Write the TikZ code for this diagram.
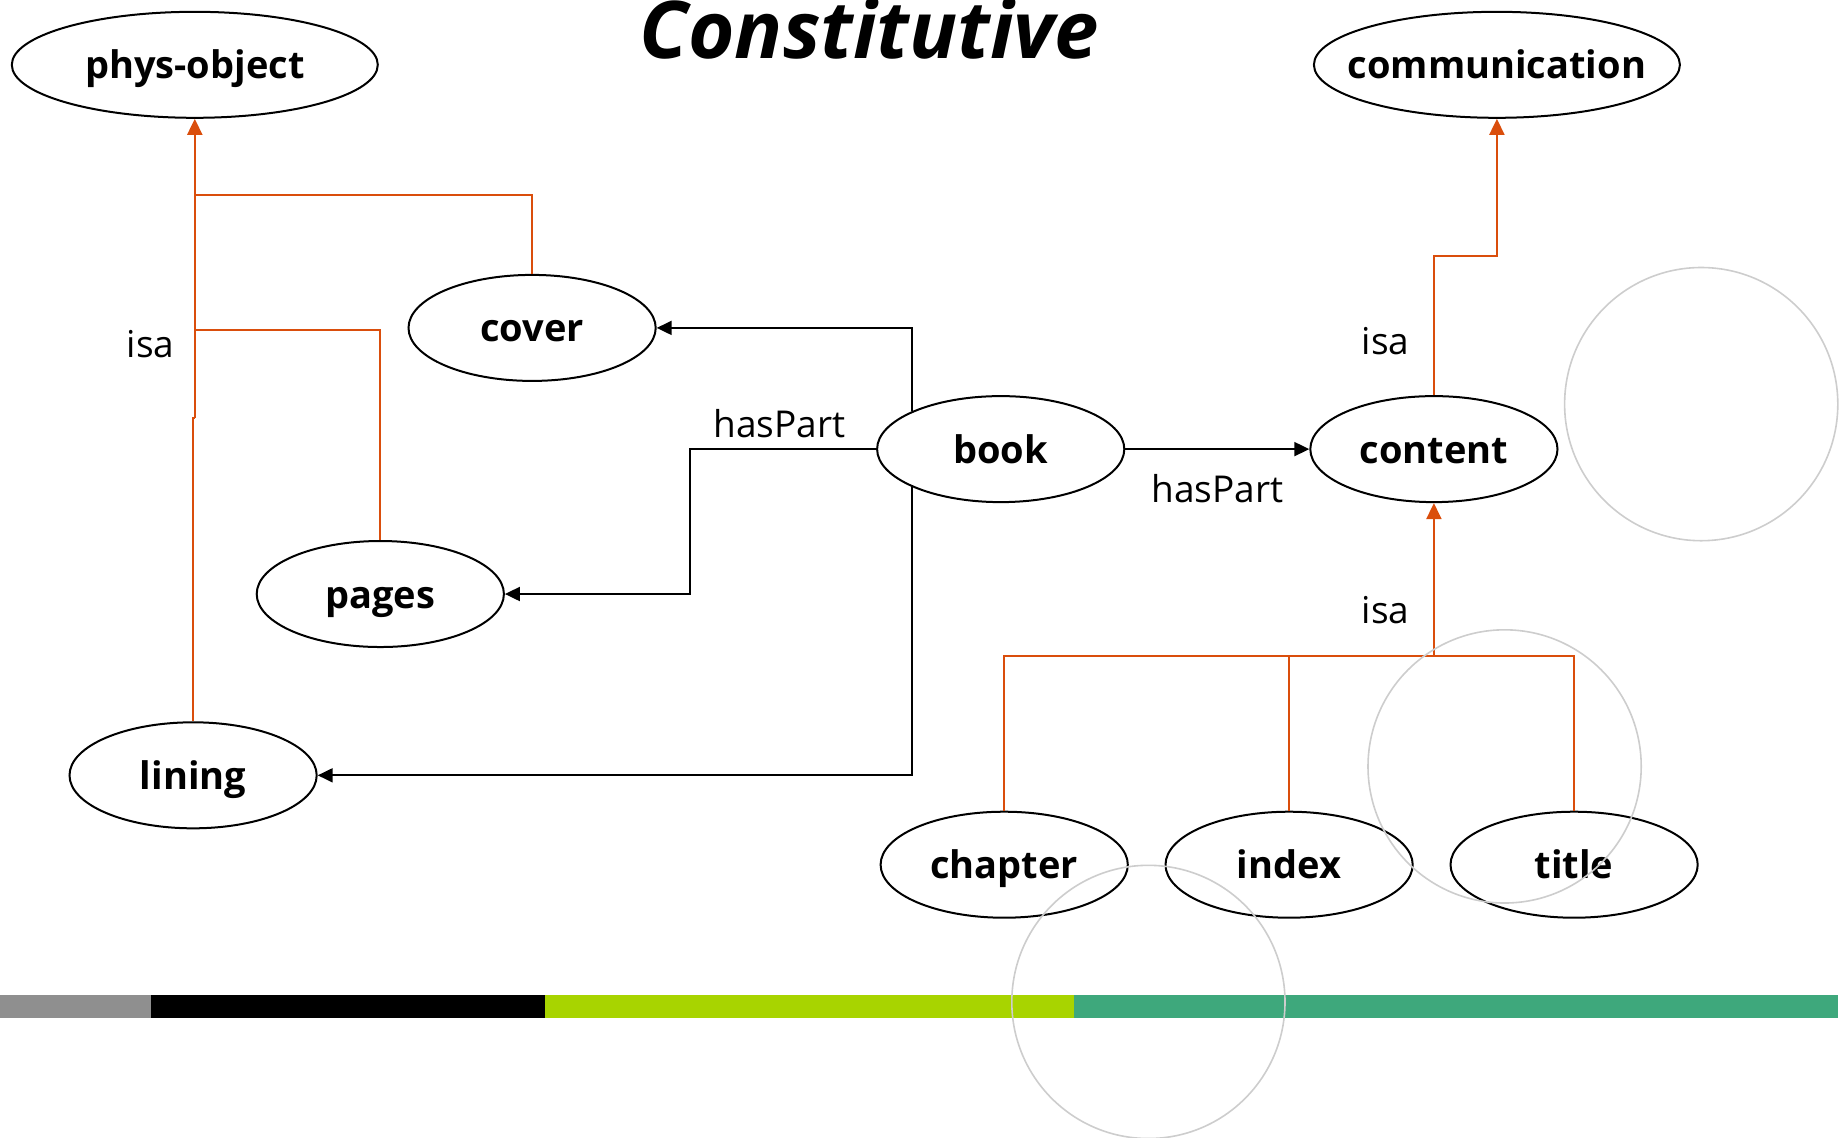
\documentclass[tikz,border=0pt]{standalone}
\usepackage{fontspec}
\setmainfont{Open Sans}
\usetikzlibrary{shapes.geometric,arrows.meta}
\definecolor{isaorange}{RGB}{218,78,12}
\definecolor{ringgray}{RGB}{205,205,205}
\definecolor{bargray}{RGB}{143,143,143}
\definecolor{barlime}{RGB}{168,212,0}
\definecolor{bargreen}{RGB}{62,168,124}
\tikzset{
  concept/.style={ellipse, draw=black, line width=1pt, fill=white, inner sep=0pt,
    minimum width=123.6pt, minimum height=53pt},
  wideconcept/.style={concept, minimum width=183pt},
  conceptlabel/.style={inner sep=0pt, text height=14pt, text depth=0pt,
    font=\fontsize{19}{22}\selectfont\bfseries},
  haspart/.style={draw=black, line width=1pt, -{Triangle[length=7.5pt,width=7pt]}},
  isaline/.style={draw=isaorange, line width=1pt},
  isaarrow/.style={isaline, -{Triangle[length=8pt,width=7.5pt]}},
  rellabel/.style={font=\fontsize{18.5}{21}\selectfont, inner sep=0pt},
  ring/.style={draw=ringgray, line width=0.8pt}
}
\begin{document}
\begin{tikzpicture}[x=0.5pt, y=-0.5pt]
\useasboundingbox (0,0) rectangle (1846,1137);
\clip (0,0) rectangle (1846,1137);

% colour band along the bottom
\fill[bargray]  (0,994.8)     rectangle (150.7,1018.4);
\fill[black]    (150.7,994.8) rectangle (545.1,1018.4);
\fill[barlime]  (545.1,994.8) rectangle (1073.7,1018.4);
\fill[bargreen] (1073.7,994.8) rectangle (1837.8,1018.4);

% heading
\node[anchor=base, inner sep=0pt, font=\fontsize{39.8}{44}\selectfont\bfseries\itshape] (heading) at (869.4,58.5) {Constitutive};

% concepts
\node[wideconcept, label={[conceptlabel]center:phys-object}] (phys) at (194.8,64.8) {};
\node[wideconcept, label={[conceptlabel]center:communication}] (comm) at (1496.9,64.8) {};
\node[concept, label={[conceptlabel]center:cover}]   (cover)   at (532.1,327.9) {};
\node[concept, label={[conceptlabel]center:book}]    (book)    at (1000.7,449.1) {};
\node[concept, label={[conceptlabel]center:content}] (content) at (1433.9,449.1) {};
\node[concept, label={[conceptlabel]center:pages}]   (pages)   at (380.3,594.0) {};
\node[concept, label={[conceptlabel]center:lining}]  (lining)  at (193.1,775.3) {};
\node[concept, label={[conceptlabel]center:chapter}] (chapter) at (1004.2,864.7) {};
\node[concept, label={[conceptlabel]center:index}]   (index)   at (1289.1,864.7) {};
\node[concept, label={[conceptlabel]center:title}]   (title)   at (1574.1,864.7) {};

% routing points
\coordinate (pagesbend) at (689.9,449.1);
\coordinate (coverjoin) at (194.8,195.4);
\coordinate (pagesjoin) at (194.8,329.6);
\coordinate (liningjog) at (193.1,418.0);
\coordinate (trunkjog)  at (194.8,418.0);
\coordinate (commbend)  at (1433.9,255.5);
\coordinate (partsjoin) at (1433.9,655.8);

% hasPart relations
\draw[haspart] (book.157) |- (cover.east);
\draw[haspart] (book.west) -- (pagesbend) |- (pages.east);
\draw[haspart] (book.203) |- (lining.east);
\draw[haspart] (book.east) -- (content.west);

% isa relations
\draw[isaline] (lining.north) -- (liningjog) -- (trunkjog);
\draw[isaarrow] (trunkjog) -- (phys.south);
\draw[isaline] (cover.north) |- (coverjoin);
\draw[isaline] (pages.north) |- (pagesjoin);
\draw[isaarrow] (content.north) -- (commbend) -| (comm.south);
\draw[isaline] (chapter.north) |- (partsjoin);
\draw[isaline] (title.north) |- (partsjoin);
\draw[isaline] (index.north) -- (index.north |- partsjoin);
\draw[isaarrow] (partsjoin) -- (content.south);

% relation labels
\node[rellabel] (isa1) at (150.7,343.8) {isa};
\node[rellabel] (isa2) at (1385.7,341.4) {isa};
\node[rellabel] (isa3) at (1385.7,609.8) {isa};
\node[rellabel] (hp1)  at (779.4,423.8) {hasPart};
\node[rellabel] (hp2)  at (1217.3,488.6) {hasPart};

% thin grey rings
\draw[ring] (1701.2,404.1) circle (136.6);
\draw[ring] (1504.6,766.4) circle (136.6);
\draw[ring] (1148.4,1001.9) circle (136.6);
\end{tikzpicture}
\end{document}
